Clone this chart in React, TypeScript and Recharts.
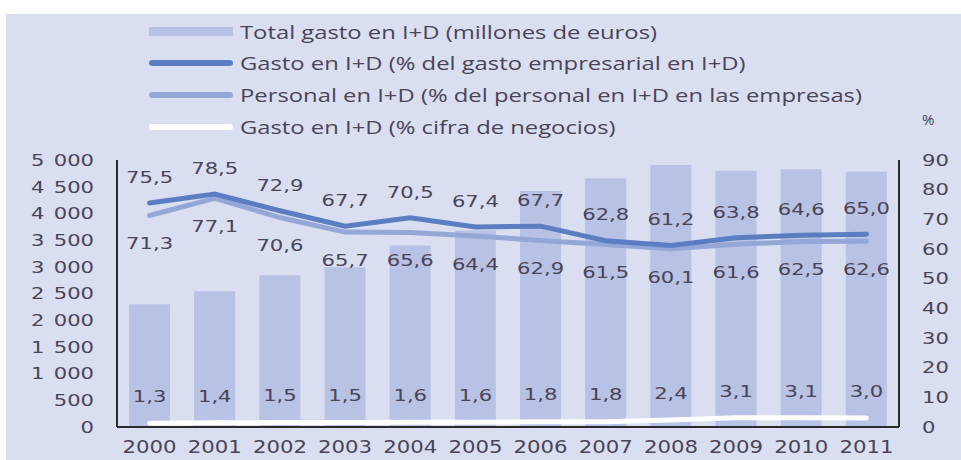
import React from 'react';
import { ComposedChart, Bar, Line, XAxis, YAxis, Legend, LabelList, Label } from 'recharts';

const years = ['2000', '2001', '2002', '2003', '2004', '2005', '2006', '2007', '2008', '2009', '2010', '2011'];
const totalGasto = [2300, 2540, 2840, 2990, 3400, 3680, 4420, 4660, 4905, 4800, 4825, 4780];
const gastoEmpresarial = [75.5, 78.5, 72.9, 67.7, 70.5, 67.4, 67.7, 62.8, 61.2, 63.8, 64.6, 65.0];
const personalEmpresas = [71.3, 77.1, 70.6, 65.7, 65.6, 64.4, 62.9, 61.5, 60.1, 61.6, 62.5, 62.6];
const cifraNegocios = [1.3, 1.4, 1.5, 1.5, 1.6, 1.6, 1.8, 1.8, 2.4, 3.1, 3.1, 3.0];
const leftTicks = [0, 500, 1000, 1500, 2000, 2500, 3000, 3500, 4000, 4500, 5000];
const rightTicks = [0, 10, 20, 30, 40, 50, 60, 70, 80, 90];

const legendItems = [
  { label: 'Total gasto en I+D (millones de euros)', kind: 'bar', color: '#b7c2e4' },
  { label: 'Gasto en I+D (% del gasto empresarial en I+D)', kind: 'line', color: '#5b7ec2' },
  { label: 'Personal en I+D (% del personal en I+D en las empresas)', kind: 'line', color: '#94a7d7' },
  { label: 'Gasto en I+D (% cifra de negocios)', kind: 'line', color: '#ffffff' },
];

const data = years.map((year, i) => ({
  year,
  total: totalGasto[i],
  gasto: gastoEmpresarial[i],
  personal: personalEmpresas[i],
  cifra: cifraNegocios[i],
}));

const BG = '#d9dff1';
const BAR = '#b7c2e4';
const DARK = '#5b7ec2';
const LIGHT = '#94a7d7';
const TEXT = '#4a4457';
const NUM_FONT = '"DejaVu Sans", sans-serif';
const SX = 1.32;

const fmtComma = (v: number) => v.toFixed(1).replace('.', ',');
const fmtThousands = (v: number) => (v >= 1000 ? `${Math.floor(v / 1000)} ${String(v % 1000).padStart(3, '0')}` : String(v));

const LeftTick = (props: any) => {
  const { x, y, payload } = props;
  return (
    <text transform={`translate(${x},${y}) scale(${SX},1)`} textAnchor="end" dy={5.8} fill={TEXT} fontSize={16} fontFamily={NUM_FONT} wordSpacing={2}>
      {fmtThousands(payload.value)}
    </text>
  );
};

const RightTick = (props: any) => {
  const { x, y, payload } = props;
  return (
    <text transform={`translate(${x},${y}) scale(${SX},1)`} textAnchor="start" dy={5.8} fill={TEXT} fontSize={16} fontFamily={NUM_FONT}>
      {payload.value}
    </text>
  );
};

const XTick = (props: any) => {
  const { x, y, payload } = props;
  return (
    <text transform={`translate(${x},${y}) scale(1.25,1)`} textAnchor="middle" dy={26} fill={TEXT} fontSize={17} fontFamily={NUM_FONT}>
      {payload.value}
    </text>
  );
};

const makeLabel = (offset: number) => (props: any) => {
  const { x, y, value } = props;
  if (x == null || y == null) return null;
  return (
    <text transform={`translate(${x},${y + offset}) scale(${SX},1)`} textAnchor="middle" dy={5.8} fill={TEXT} fontSize={16} fontFamily={NUM_FONT}>
      {fmtComma(Number(value))}
    </text>
  );
};

const LegendContent = () => (
  <div style={{ display: 'flex', flexDirection: 'column' }}>
    {legendItems.map((item) => (
      <div key={item.label} style={{ height: 31.6, display: 'flex', alignItems: 'center' }}>
        <div
          style={{
            width: 84,
            height: item.kind === 'bar' ? 9 : 6,
            background: item.color,
            borderRadius: item.kind === 'bar' ? 0 : 3,
            marginRight: 7,
            flexShrink: 0,
          }}
        />
        <span
          style={{
            display: 'inline-block',
            whiteSpace: 'nowrap',
            transform: 'scaleX(1.36)',
            transformOrigin: 'left center',
            fontFamily: '"Open Sans", sans-serif',
            fontSize: 17.5,
            color: TEXT,
            lineHeight: '20px',
          }}
        >
          {item.label}
        </span>
      </div>
    ))}
  </div>
);

const PercentLabel = (props: any) => {
  const vb = props.viewBox || {};
  return (
    <text x={(vb.x || 0) + 23} y={(vb.y || 0) - 35} fill={TEXT} fontSize={15} fontFamily='"Open Sans", sans-serif'>
      %
    </text>
  );
};

export default function App() {
  return (
    <div style={{ position: 'absolute', left: 0, top: 0, width: 961, height: 460, background: '#ffffff', overflow: 'hidden' }}>
      <div style={{ position: 'absolute', left: 6, top: 14, width: 955, height: 446, background: BG }} />
      <div style={{ position: 'absolute', left: 0, top: 0 }}>
        <ComposedChart width={961} height={460} data={data} margin={{ top: 160, right: 0, bottom: 0, left: 27 }} barCategoryGap={0}>
          <Legend
            layout="vertical"
            verticalAlign="middle"
            align="center"
            content={<LegendContent />}
            wrapperStyle={{ position: 'absolute', top: 16, left: 149, width: 800, height: 127 }}
          />
          <XAxis
            dataKey="year"
            xAxisId="x"
            height={33}
            tickLine={false}
            tickSize={0}
            tickMargin={0}
            axisLine={{ stroke: '#2a2a2a', strokeWidth: 2 }}
            tick={<XTick />}
            interval={0}
          />
          <YAxis
            yAxisId="left"
            orientation="left"
            width={90}
            domain={[0, 5000]}
            ticks={leftTicks}
            tickLine={false}
            tickSize={0}
            tickMargin={23}
            axisLine={{ stroke: '#2a2a2a', strokeWidth: 2 }}
            tick={<LeftTick />}
            interval={0}
          />
          <YAxis
            yAxisId="right"
            orientation="right"
            width={62}
            domain={[0, 90]}
            ticks={rightTicks}
            tickLine={false}
            tickSize={0}
            tickMargin={23}
            axisLine={{ stroke: '#2a2a2a', strokeWidth: 2 }}
            tick={<RightTick />}
            interval={0}
          >
            <Label content={<PercentLabel />} position="top" />
          </YAxis>
          <Bar dataKey="total" xAxisId="x" yAxisId="left" fill={BAR} barSize={41} isAnimationActive={false} />
          <Line dataKey="personal" xAxisId="x" yAxisId="right" type="linear" stroke={LIGHT} strokeWidth={5} dot={false} strokeLinecap="round" isAnimationActive={false}>
            <LabelList dataKey="personal" content={makeLabel(28)} />
          </Line>
          <Line dataKey="gasto" xAxisId="x" yAxisId="right" type="linear" stroke={DARK} strokeWidth={5} dot={false} strokeLinecap="round" isAnimationActive={false}>
            <LabelList dataKey="gasto" content={makeLabel(-26)} />
          </Line>
          <Line dataKey="cifra" xAxisId="x" yAxisId="right" type="linear" stroke="#ffffff" strokeWidth={5} dot={false} strokeLinecap="round" isAnimationActive={false}>
            <LabelList dataKey="cifra" content={makeLabel(-27)} />
          </Line>
        </ComposedChart>
      </div>
    </div>
  );
}
